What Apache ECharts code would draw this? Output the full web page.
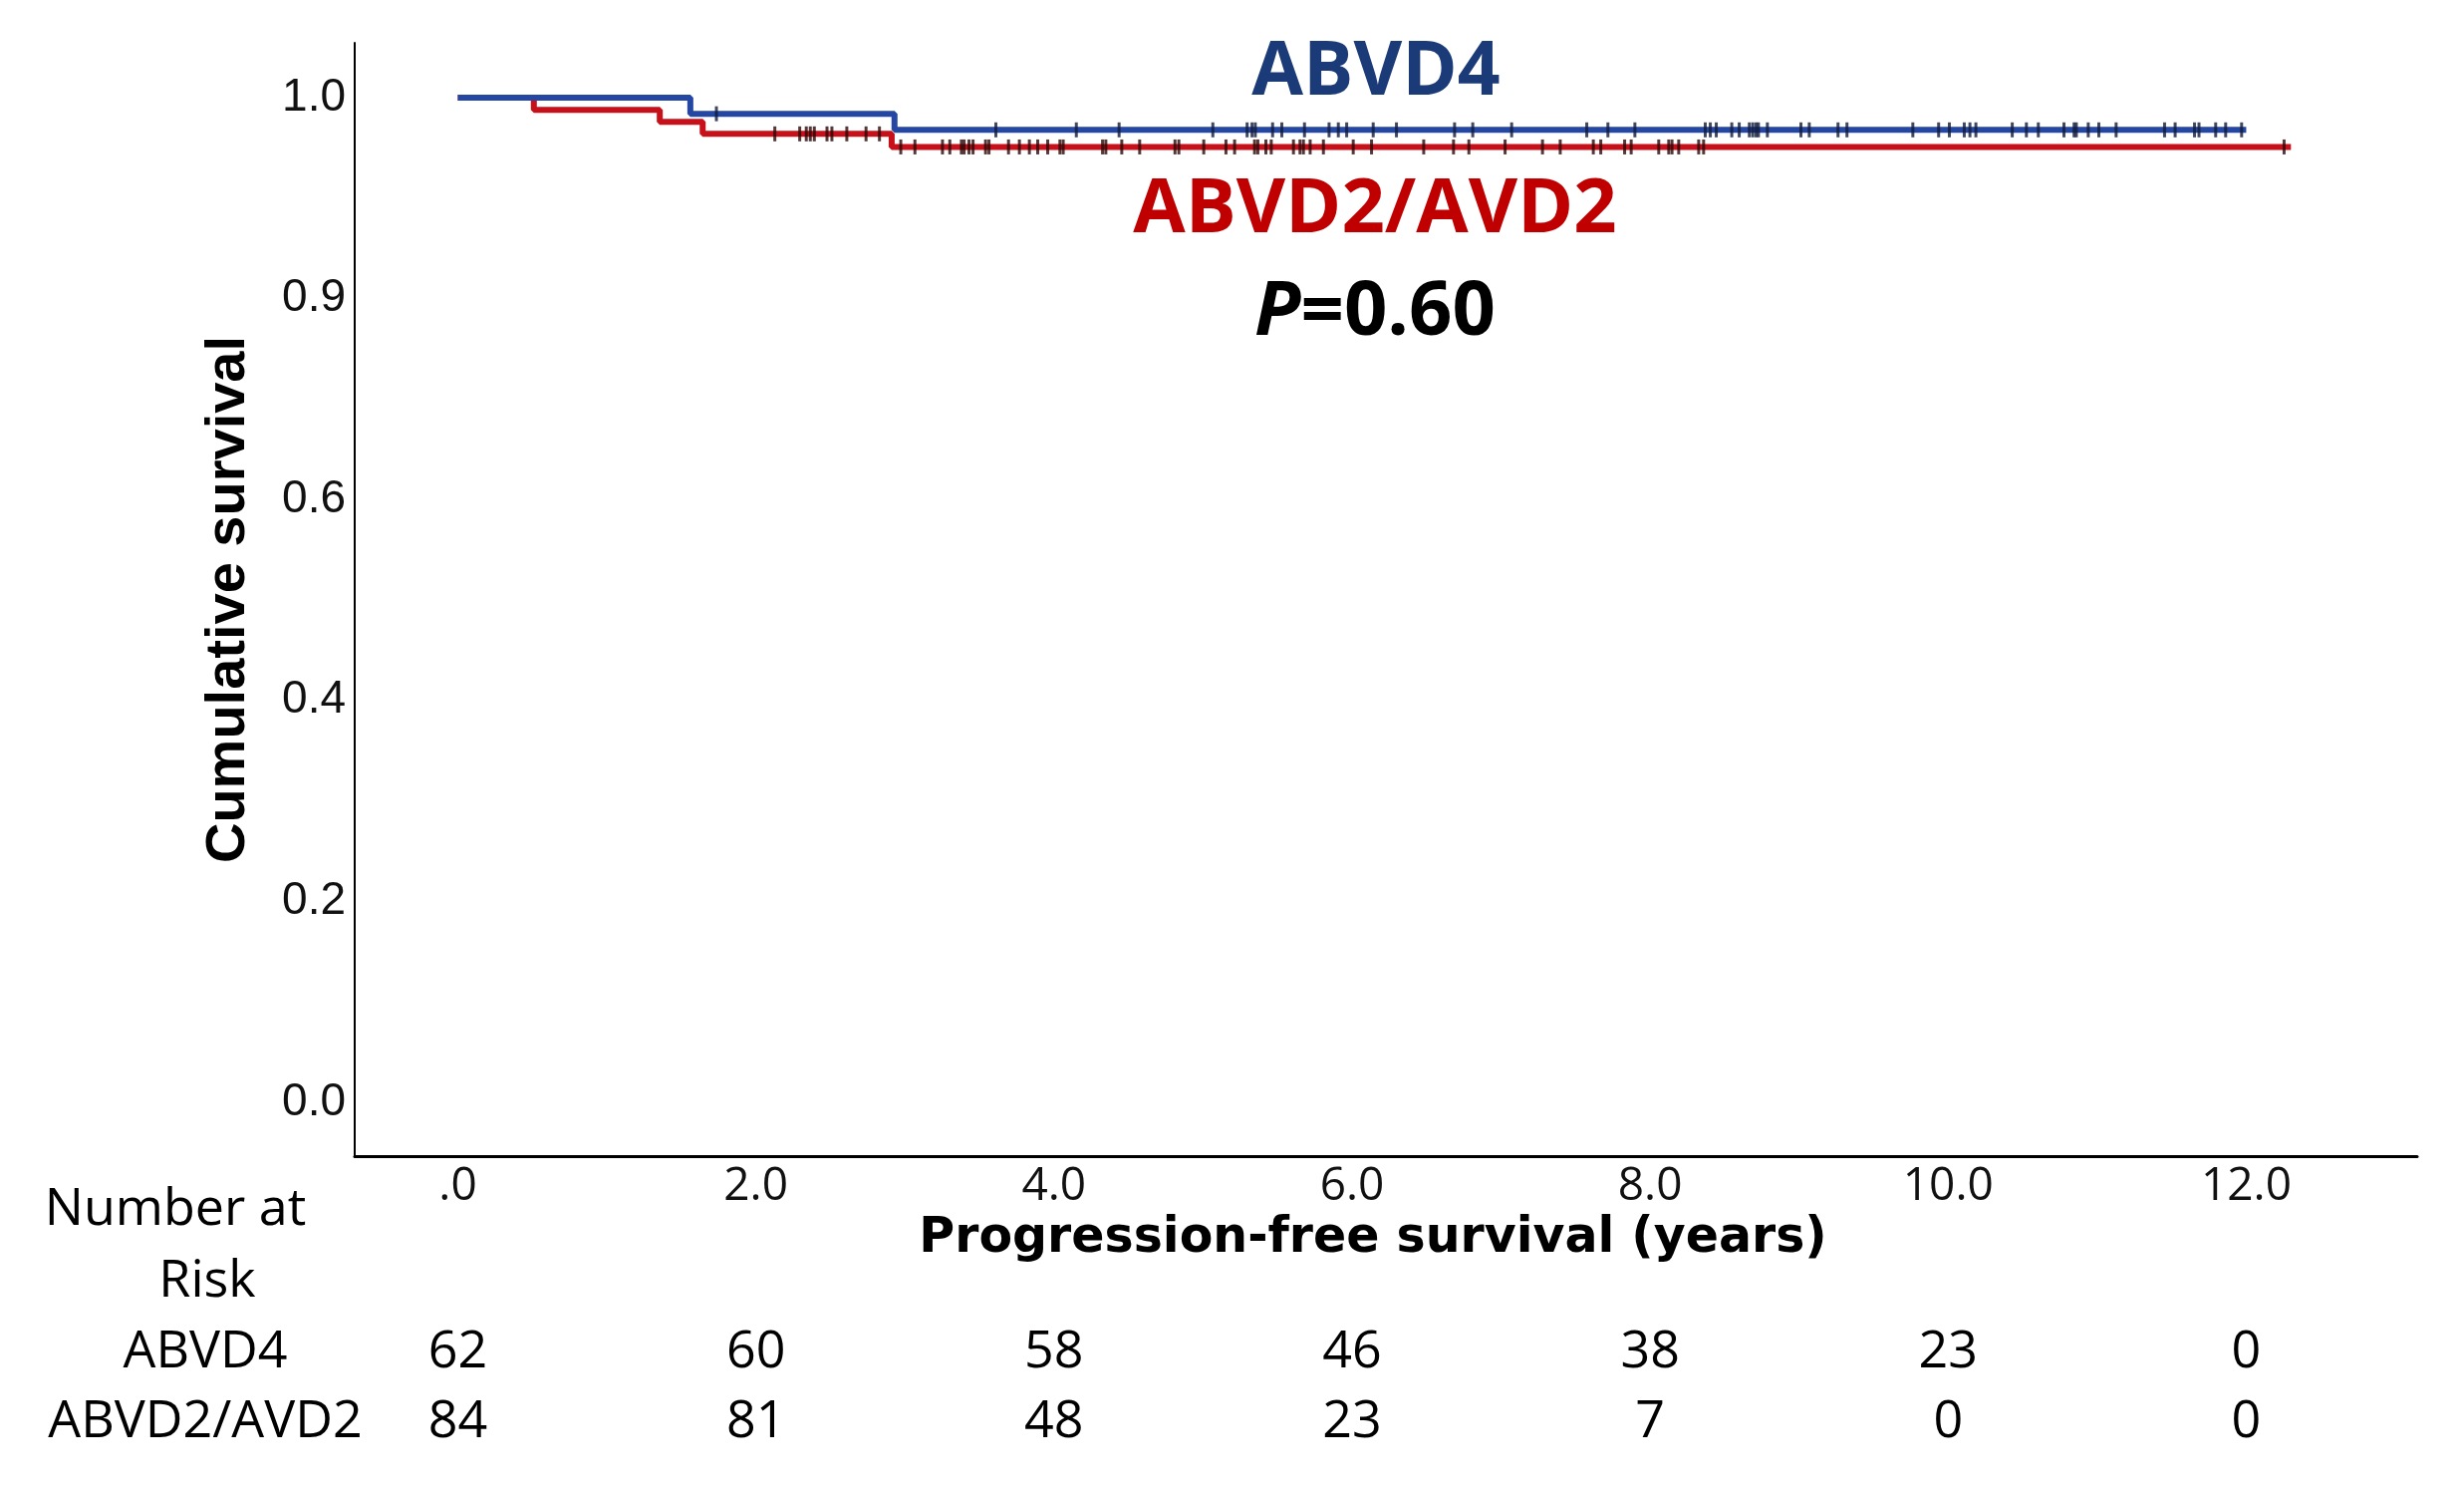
<!DOCTYPE html>
<html>
<head>
<meta charset="utf-8">
<script src="https://cdn.jsdelivr.net/npm/echarts@6/dist/echarts.min.js"></script>
<style>
html,body{margin:0;padding:0;background:#fff;}
#main{width:2473px;height:1494px;}
</style>
</head>
<body>
<div id="main"></div>
<script>
// ---- data ----
const xTicks = [0, 2, 4, 6, 8, 10, 12];
const xTickLabels = ['.0', '2.0', '4.0', '6.0', '8.0', '10.0', '12.0'];
const yTicks = [0, 0.2, 0.4, 0.6, 0.8, 1.0];
const yTickLabels = ['0.0', '0.2', '0.4', '0.6', '0.9', '1.0'];

// step points: [time, survival after the step]
const abvd4Steps = [[0, 1.0], [1.56, 0.984], [2.93, 0.968], [12.0, 0.968]];
const abvd2Steps = [[0, 1.0], [0.51, 0.988], [1.355, 0.976], [1.643, 0.964], [2.911, 0.951], [12.3, 0.951]];

// censoring times (years)
const abvd4Censor = [1.735, 3.61, 4.15, 4.437, 5.066, 5.296, 5.329, 5.351, 5.467, 5.529, 5.681, 5.846, 5.908, 5.964,
  6.142, 6.298, 6.688, 6.81, 7.071, 7.575, 7.717, 7.898, 8.37, 8.404, 8.444, 8.548, 8.598, 8.666, 8.689, 8.711, 8.727,
  8.787, 9.012, 9.068, 9.261, 9.321, 9.763, 9.936, 10.008, 10.108, 10.146, 10.186, 10.43, 10.525, 10.605, 10.777,
  10.845, 10.86, 10.94, 11.011, 11.127, 11.452, 11.523, 11.653, 11.683, 11.795, 11.862, 11.969];
const abvd2Censor = [2.127, 2.294, 2.338, 2.365, 2.392, 2.477, 2.51, 2.61, 2.739, 2.829, 2.972, 3.067, 3.252, 3.301,
  3.379, 3.397, 3.43, 3.457, 3.541, 3.564, 3.695, 3.768, 3.835, 3.891, 3.958, 4.04, 4.062, 4.326, 4.348, 4.455, 4.575,
  4.812, 4.838, 5.005, 5.154, 5.212, 5.346, 5.368, 5.422, 5.458, 5.607, 5.651, 5.674, 5.719, 5.808, 6.008, 6.131,
  6.481, 6.681, 6.784, 7.027, 7.278, 7.397, 7.619, 7.669, 7.829, 7.873, 8.058, 8.125, 8.147, 8.192, 8.326, 8.359, 12.254];

// number at risk table
const riskTimes = [0, 2, 4, 6, 8, 10, 12];
const riskGroups = ['ABVD4', 'ABVD2/AVD2'];
const riskABVD4 = [62, 60, 58, 46, 38, 23, 0];
const riskABVD2 = [84, 81, 48, 23, 7, 0, 0];

// ---- helpers ----
function survAt(steps, t) {
  let v = steps[0][1];
  for (const s of steps) { if (s[0] <= t) v = s[1]; }
  return v;
}
const censorPts = (steps, times) => times.map(t => [t, survAt(steps, t)]);

const blue = '#2447A3';
const red = '#C8101A';
const xMin = -0.692, xMax = 13.147;

const riskData = [];
riskTimes.forEach((t, i) => {
  riskData.push([t, riskGroups[0], riskABVD4[i]]);
  riskData.push([t, riskGroups[1], riskABVD2[i]]);
});

const chart = echarts.init(document.getElementById('main'), null, {renderer: 'canvas'});
const option = {
  backgroundColor: '#fff',
  animation: false,
  grid: [
    {left: 356, right: 47, top: 43, bottom: 334},
    {left: 356, right: 47, top: 1322, bottom: 32}
  ],
  xAxis: [
    {
      type: 'value', gridIndex: 0, min: xMin, max: xMax,
      axisLine: {show: true, onZero: false, lineStyle: {color: '#000', width: 3}},
      axisTick: {show: false},
      splitLine: {show: false},
      axisLabel: {
        customValues: xTicks,
        formatter: v => { const i = xTicks.indexOf(v); return i >= 0 ? xTickLabels[i] : ''; },
        fontFamily: 'Open Sans', fontSize: 46, color: '#111', margin: 8
      },
      name: 'Progression-free survival (years)',
      nameLocation: 'middle', nameGap: 52,
      nameTextStyle: {fontFamily: 'DejaVu Sans', fontWeight: 'bold', fontSize: 49, color: '#000', padding: [0, 26, 0, 0]}
    },
    {
      type: 'value', gridIndex: 1, min: xMin, max: xMax, show: false
    }
  ],
  yAxis: [
    {
      type: 'value', gridIndex: 0, min: -0.0536, max: 1.0546,
      axisLine: {show: true, onZero: false, lineStyle: {color: '#000', width: 2}},
      axisTick: {show: false},
      splitLine: {show: false},
      axisLabel: {
        customValues: yTicks,
        formatter: v => { const i = yTicks.findIndex(t => Math.abs(t - v) < 1e-9); return i >= 0 ? yTickLabels[i] : ''; },
        fontFamily: 'Liberation Sans', fontSize: 46, color: '#111', margin: 9
      },
      name: 'Cumulative survival',
      nameLocation: 'middle', nameGap: 98,
      nameTextStyle: {fontFamily: 'Liberation Sans', fontWeight: 'bold', fontSize: 56, color: '#000'}
    },
    {
      type: 'category', gridIndex: 1, data: riskGroups, inverse: true,
      axisLine: {show: false}, axisTick: {show: false}, splitLine: {show: false},
      axisLabel: {fontFamily: 'Open Sans', fontSize: 52, color: '#000', align: 'center', margin: 150}
    }
  ],
  graphic: [
    {type: 'text', x: 176, y: 1214,
      style: {text: 'Number at', fontFamily: 'Open Sans', fontSize: 52, fill: '#000', textAlign: 'center', textVerticalAlign: 'middle'}},
    {type: 'text', x: 208, y: 1286,
      style: {text: 'Risk', fontFamily: 'Open Sans', fontSize: 52, fill: '#000', textAlign: 'center', textVerticalAlign: 'middle'}},
    {type: 'text', x: 1381, y: 74,
      style: {text: 'ABVD4', fontFamily: 'Open Sans', fontWeight: 'bold', fontSize: 75, fill: '#1B3A78', textAlign: 'center', textVerticalAlign: 'middle'}},
    {type: 'text', x: 1380, y: 211,
      style: {text: 'ABVD2/AVD2', fontFamily: 'Open Sans', fontWeight: 'bold', fontSize: 76, fill: '#C00000', textAlign: 'center', textVerticalAlign: 'middle'}},
    {type: 'text', x: 1380, y: 314,
      style: {
        text: '{p|P}{n|=0.60}', textAlign: 'center', textVerticalAlign: 'middle',
        rich: {
          p: {fontFamily: 'Open Sans', fontWeight: 'bold', fontStyle: 'italic', fontSize: 76, fill: '#000'},
          n: {fontFamily: 'Open Sans', fontWeight: 'bold', fontSize: 76, fill: '#000'}
        }
      }}
  ],
  series: [
    {
      name: 'ABVD2/AVD2', type: 'line', step: 'end', xAxisIndex: 0, yAxisIndex: 0,
      data: abvd2Steps, showSymbol: false, symbol: 'none',
      lineStyle: {color: red, width: 6}, z: 2
    },
    {
      name: 'ABVD4', type: 'line', step: 'end', xAxisIndex: 0, yAxisIndex: 0,
      data: abvd4Steps, showSymbol: false, symbol: 'none',
      lineStyle: {color: blue, width: 6}, z: 3
    },
    {
      name: 'ABVD2 censored', type: 'scatter', xAxisIndex: 0, yAxisIndex: 0,
      data: censorPts(abvd2Steps, abvd2Censor), symbol: 'rect', symbolSize: [3, 15],
      itemStyle: {color: '#2a0606'}, z: 4
    },
    {
      name: 'ABVD4 censored', type: 'scatter', xAxisIndex: 0, yAxisIndex: 0,
      data: censorPts(abvd4Steps, abvd4Censor), symbol: 'rect', symbolSize: [3, 15],
      itemStyle: {color: '#111a3a'}, z: 5
    },
    {
      name: 'at risk', type: 'scatter', xAxisIndex: 1, yAxisIndex: 1,
      data: riskData, symbol: 'circle', symbolSize: 0.5, itemStyle: {color: '#fff'},
      emphasis: {disabled: true},
      label: {show: true, position: 'inside', formatter: p => String(p.value[2]),
        fontFamily: 'Open Sans', fontSize: 52, color: '#000', opacity: 1, textBorderWidth: 0}
    }
  ]
};
chart.setOption(option);
</script>
</body>
</html>
